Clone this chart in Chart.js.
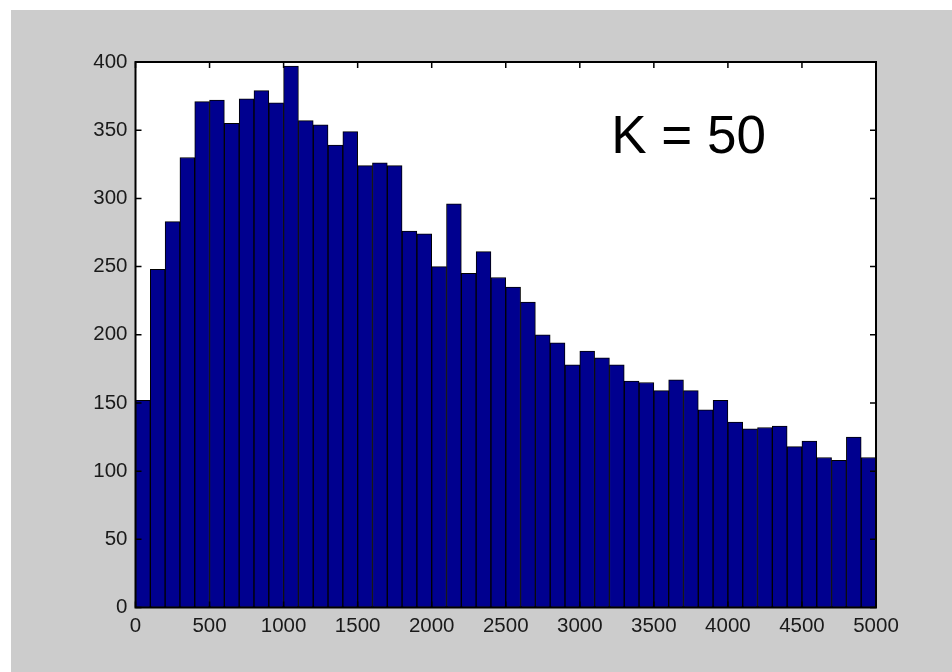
<!DOCTYPE html>
<html>
<head>
<meta charset="utf-8">
<script src="https://cdn.jsdelivr.net/npm/chart.js@4/dist/chart.umd.min.js"></script>
<style>
html,body{margin:0;padding:0;background:#ffffff;}
#wrap{width:952px;height:672px;position:relative;}
</style>
</head>
<body>
<div id="wrap"><canvas id="c" width="952" height="672"></canvas></div>
<script>
// Bin centres (data units) of the 50-bin histogram
const binCenters = [50,150,250,350,450,550,650,750,850,950,
  1050,1150,1250,1350,1450,1550,1650,1750,1850,1950,
  2050,2150,2250,2350,2450,2550,2650,2750,2850,2950,
  3050,3150,3250,3350,3450,3550,3650,3750,3850,3950,
  4050,4150,4250,4350,4450,4550,4650,4750,4850,4950];
// Counts per bin
const counts = [152,248,283,330,371,372,355,373,379,370,
  397,357,354,339,349,324,326,324,276,274,
  250,296,245,261,242,235,224,200,194,178,
  188,183,178,166,165,159,167,159,145,152,
  136,131,132,133,118,122,110,108,125,110];
const xTicks = [0,500,1000,1500,2000,2500,3000,3500,4000,4500,5000];
const yTicks = [0,50,100,150,200,250,300,350,400];
const annotationText = 'K = 50';

const FONT = '"Liberation Sans", Arial, Helvetica, sans-serif';

const framePlugin = {
  id: 'frame',
  beforeDraw(chart) {
    const ctx = chart.ctx;
    const a = chart.chartArea;
    ctx.save();
    ctx.fillStyle = '#ffffff';
    ctx.fillRect(0, 0, chart.width, chart.height);
    ctx.fillStyle = '#cccccc';
    ctx.fillRect(11, 10, chart.width - 11, chart.height - 10);
    ctx.fillStyle = '#ffffff';
    ctx.fillRect(a.left, a.top, a.right - a.left, a.bottom - a.top);
    ctx.restore();
  },
  afterDatasetsDraw(chart) {
    const ctx = chart.ctx;
    const a = chart.chartArea;
    const xs = chart.scales.x, ys = chart.scales.y;
    const tl = 6;
    ctx.save();
    ctx.strokeStyle = '#000000';
    ctx.lineWidth = 1.5;
    ctx.beginPath();
    xTicks.forEach(v => {
      const px = xs.getPixelForValue(v);
      ctx.moveTo(px, a.bottom); ctx.lineTo(px, a.bottom - tl);
      ctx.moveTo(px, a.top); ctx.lineTo(px, a.top + tl);
    });
    yTicks.forEach(v => {
      const py = ys.getPixelForValue(v);
      ctx.moveTo(a.left, py); ctx.lineTo(a.left + tl, py);
      ctx.moveTo(a.right, py); ctx.lineTo(a.right - tl, py);
    });
    ctx.stroke();
    ctx.lineWidth = 2;
    ctx.strokeRect(a.left, a.top, a.right - a.left, a.bottom - a.top);
    // annotation
    ctx.fillStyle = '#000000';
    ctx.font = '53px ' + FONT;
    ctx.textAlign = 'left';
    ctx.textBaseline = 'alphabetic';
    ctx.fillText(annotationText, xs.getPixelForValue(3212), ys.getPixelForValue(333));
    ctx.restore();
  }
};

new Chart(document.getElementById('c'), {
  type: 'bar',
  data: {
    datasets: [{
      data: binCenters.map((x, i) => ({x: x, y: counts[i]})),
      backgroundColor: '#00008f',
      borderColor: '#000000',
      borderWidth: 1,
      borderSkipped: false,
      barPercentage: 1.0,
      categoryPercentage: 1.0,
      grouped: false
    }]
  },
  options: {
    responsive: false,
    animation: false,
    events: [],
    layout: {padding: {left: 0, top: 62, right: 76, bottom: 0}},
    plugins: {legend: {display: false}, tooltip: {enabled: false}, title: {display: false}},
    scales: {
      x: {
        type: 'linear',
        min: 0, max: 5000,
        offset: false,
        grid: {display: false, drawTicks: false},
        border: {display: false},
        afterBuildTicks: s => { s.ticks = xTicks.map(v => ({value: v})); },
        afterFit: s => { s.height = 64.5; },
        ticks: {
          color: '#1a1a1a',
          font: {family: FONT, size: 20.5},
          padding: 7,
          maxRotation: 0,
          autoSkip: false,
          callback: v => String(v)
        }
      },
      y: {
        type: 'linear',
        min: 0, max: 400,
        grid: {display: false, drawTicks: false},
        border: {display: false},
        afterBuildTicks: s => { s.ticks = yTicks.map(v => ({value: v})); },
        afterFit: s => { s.width = 135.5; },
        ticks: {
          color: '#1a1a1a',
          font: {family: FONT, size: 20.5},
          padding: 8,
          autoSkip: false,
          callback: v => String(v)
        }
      }
    }
  },
  plugins: [framePlugin]
});
</script>
</body>
</html>
